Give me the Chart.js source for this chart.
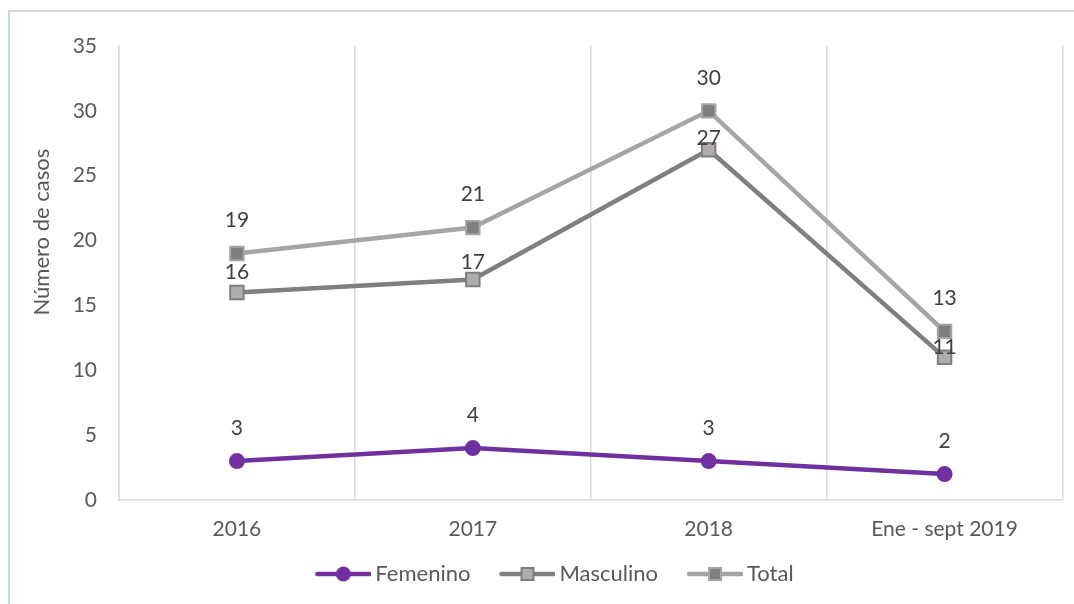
<!DOCTYPE html>
<html>
<head>
<meta charset="utf-8">
<script src="https://cdn.jsdelivr.net/npm/chart.js@4.4.1/dist/chart.umd.min.js"></script>
<style>
  html, body { margin: 0; padding: 0; background: #fff; }
  #frame {
    position: absolute; left: 8px; top: 10px; width: 1066px; height: 594px;
    border-left: 2px solid #b3e0e0; border-top: 2px solid #dadada;
  }
  #wrap { position: absolute; left: 0; top: 0; width: 1074px; height: 604px; }
</style>
</head>
<body>
<div id="frame"></div>
<div id="wrap"><canvas id="chart" width="1074" height="604"></canvas></div>
<script>
// datos
const categorias = ['2016', '2017', '2018', 'Ene - sept 2019'];
const femenino = [3, 4, 3, 2];
const masculino = [16, 17, 27, 11];
const total = [19, 21, 30, 13];
const tituloY = 'Número de casos';

const FONT = 'Lato, "Open Sans", sans-serif';
const FS = 21;

// icono de leyenda: linea con marcador (margen transparente a la izquierda)
const BOX_W = 74, ICON_W = BOX_W + 14;
function legendIcon(lineColor, markerFill, markerBorder, shape) {
  const c = document.createElement('canvas');
  c.width = ICON_W; c.height = 18;
  const g = c.getContext('2d');
  const x0 = ICON_W - 56, mid = ICON_W - 28;
  g.strokeStyle = lineColor;
  g.lineWidth = 4.5;
  g.lineCap = 'round';
  g.beginPath(); g.moveTo(x0 + 2, 9); g.lineTo(ICON_W - 2, 9); g.stroke();
  if (shape === 'circle') {
    g.fillStyle = markerFill;
    g.beginPath(); g.arc(mid, 9, 7.5, 0, Math.PI * 2); g.fill();
  } else {
    g.fillStyle = markerFill;
    g.fillRect(mid - 6, 3, 12, 12);
    g.strokeStyle = markerBorder; g.lineWidth = 2;
    g.strokeRect(mid - 6, 3, 12, 12);
  }
  return c;
}

// etiquetas de datos encima de cada punto + titulo del eje Y
const etiquetas = {
  id: 'etiquetas',
  afterDatasetsDraw(chart) {
    const ctx = chart.ctx;
    ctx.save();
    ctx.font = FS + 'px ' + FONT;
    ctx.fillStyle = '#404040';
    ctx.textAlign = 'center';
    ctx.textBaseline = 'middle';
    chart.data.datasets.forEach((ds, i) => {
      const meta = chart.getDatasetMeta(i);
      meta.data.forEach((pt, j) => {
        const lift = ds.labelLift ? ds.labelLift[j] : 33;
        ctx.fillText(String(ds.data[j]), pt.x, pt.y - lift);
      });
    });
    // titulo del eje, algo por encima del centro como en el original
    const a = chart.chartArea;
    ctx.translate(42, a.top + a.height * 0.41);
    ctx.rotate(-Math.PI / 2);
    ctx.fillStyle = '#595959';
    ctx.font = '22px ' + FONT;
    ctx.fillText(tituloY, 0, 0);
    ctx.restore();
  }
};

new Chart(document.getElementById('chart').getContext('2d'), {
  type: 'line',
  data: {
    labels: categorias,
    datasets: [
      {
        label: 'Femenino',
        data: femenino,
        borderColor: '#7030a0',
        backgroundColor: '#7030a0',
        borderWidth: 4.5,
        pointStyle: 'circle',
        pointRadius: 8,
        pointBorderWidth: 0,
        pointBackgroundColor: '#7030a0',
        icon: legendIcon('#7030a0', '#7030a0', '#7030a0', 'circle')
      },
      {
        label: 'Masculino',
        data: masculino,
        borderColor: '#7f7f7f',
        borderWidth: 4.5,
        pointStyle: 'rect',
        pointRadius: 9.5,
        pointBorderWidth: 2,
        pointBorderColor: '#7f7f7f',
        pointBackgroundColor: '#b0acac',
        labelLift: [20, 17, 12, 10],
        icon: legendIcon('#7f7f7f', '#b0acac', '#7f7f7f', 'rect')
      },
      {
        label: 'Total',
        data: total,
        borderColor: '#a5a5a5',
        borderWidth: 4.5,
        pointStyle: 'rect',
        pointRadius: 9.5,
        pointBorderWidth: 2,
        pointBorderColor: '#a5a5a5',
        pointBackgroundColor: '#7f7f7f',
        icon: legendIcon('#a5a5a5', '#7f7f7f', '#a5a5a5', 'rect')
      }
    ].reverse()
  },
  options: {
    responsive: false,
    animation: false,
    layout: { padding: { left: 20, right: 10, top: 46, bottom: 9 } },
    scales: {
      x: {
        offset: true,
        grid: { offset: true, color: '#d9d9d9', lineWidth: 1.5, drawTicks: false },
        border: { display: true, color: '#d9d9d9', width: 1.5 },
        ticks: { color: '#595959', font: { family: FONT, size: FS, lineHeight: 1 }, padding: 19 }
      },
      y: {
        min: 0,
        max: 35,
        ticks: { stepSize: 5, color: '#595959', font: { family: FONT, size: FS }, padding: 22 },
        grid: { display: false, drawTicks: false },
        border: { display: true, color: '#d9d9d9', width: 1.5 },
        afterFit(s) { s.width = 99; }
      }
    },
    plugins: {
      legend: {
        position: 'bottom',
        reverse: true,
        labels: {
          usePointStyle: true,
          pointStyleWidth: BOX_W,
          padding: 4,
          color: '#595959',
          font: { family: FONT, size: 22 },
          generateLabels(chart) {
            return chart.data.datasets.map((ds, i) => ({
              text: ds.label,
              pointStyle: ds.icon,
              fontColor: '#595959',
              lineWidth: 0,
              strokeStyle: 'transparent',
              fillStyle: 'transparent',
              hidden: false,
              datasetIndex: i
            }));
          }
        }
      },
      tooltip: { enabled: false }
    }
  },
  plugins: [etiquetas]
});
</script>
</body>
</html>
